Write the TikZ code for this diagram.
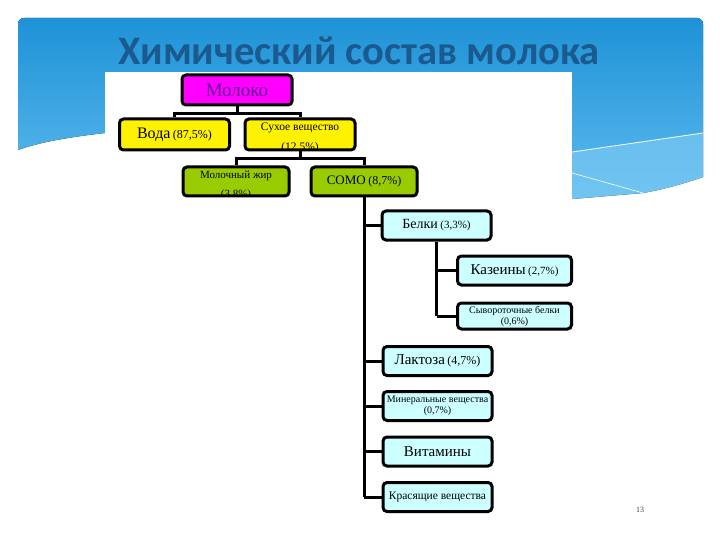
\documentclass[tikz,border=0pt]{standalone}
\usepackage{fontspec}
\setmainfont{Liberation Serif}
\newfontfamily\titlefont{Carlito}
\usetikzlibrary{positioning}
\definecolor{bannertop}{HTML}{1E92D6}
\definecolor{bannerbot}{HTML}{5EBBEF}
\definecolor{bandlight}{HTML}{7FCBF3}
\definecolor{titleblue}{HTML}{1A5A8E}
\definecolor{milkpink}{HTML}{FF00FF}
\definecolor{milkpurple}{HTML}{660099}
\definecolor{drygreen}{HTML}{99CC00}
\definecolor{palecyan}{HTML}{CCFFFF}

\begin{document}
\begin{tikzpicture}[x=1pt, y=-1pt,
  box/.style={draw=black, line width=3pt, rounded corners=4pt, align=center, inner sep=1pt, minimum height=30pt},
  milkbox/.style={box, fill=milkpink, text=milkpurple, minimum width=110pt},
  yellowbox/.style={box, fill=yellow, minimum width=110pt, minimum height=31pt},
  greenbox/.style={box, fill=drygreen, minimum width=106pt, minimum height=29pt},
  cyanbox/.style={box, fill=palecyan, minimum width=109pt, minimum height=29pt},
  link/.style={line width=3pt}]
  \useasboundingbox (0,0) rectangle (720,540);

  % Slide banner
  \fill[top color=bannertop, bottom color=bannerbot] (18,150) [rounded corners=6pt] -- (18,18) -- (703,18) [sharp corners] -- (703,177) .. controls (680,185) and (660,190) .. (643,193) -- (572,199) -- (105,200) -- (105,133) .. controls (70,137) and (40,142) .. (18,150) -- cycle;
  \fill[bandlight, opacity=0.6] (572,152) -- (703,133) -- (703,177) .. controls (680,185) and (660,190) .. (643,193) -- (572,199) -- cycle;
  \draw[white, line width=0.8pt] (572,152) -- (703,133);
  \draw[white, line width=0.6pt] (572,173) -- (643,193);
  \fill[white] (105,72) rectangle (572,200);

  % Title
  \node[font=\titlefont\bfseries\fontsize{40.5}{41}\selectfont, text=titleblue, anchor=base] (title) at (359,65) {Химический состав молока};

  % Tree levels
  \node[milkbox, font=\fontsize{19}{20}\selectfont] (moloko) at (237,90) {Молоко};
  \node[yellowbox] (voda) at (174.5,134.5) {{\fontsize{16}{17}\selectfont Вода} {\fontsize{12}{13}\selectfont (87,5\%)}};
  \node[yellowbox, path picture={\node[align=center, font=\fontsize{11.5}{20}\selectfont] at ([yshift=-3pt]path picture bounding box.center) {Сухое вещество\\(12,5\%)};}] (sukhoe) at (300,134.5) {};
  \node[greenbox, path picture={\node[align=center, font=\fontsize{11}{19}\selectfont] at ([yshift=-4pt]path picture bounding box.center) {Молочный жир\\(3,8\%)};}] (zhir) at (236,181.5) {};
  \node[greenbox] (somo) at (364,181.5) {{\fontsize{13}{14}\selectfont СОМО} {\fontsize{12}{13}\selectfont (8,7\%)}};

  % Components of SOMO
  \node[cyanbox] (belki) at (436.5,225.5) {{\fontsize{14}{15}\selectfont Белки} {\fontsize{11}{12}\selectfont (3,3\%)}};
  \node[cyanbox, minimum width=114pt] (kazein) at (514.5,270.5) {{\fontsize{15}{16}\selectfont Казеины} {\fontsize{11}{12}\selectfont (2,7\%)}};
  \node[cyanbox, minimum width=114pt, minimum height=26pt, font=\fontsize{10}{11}\selectfont] (syvor) at (514.5,316) {Сывороточные белки\\(0,6\%)};
  \node[cyanbox] (laktoza) at (437.5,361) {{\fontsize{15}{16}\selectfont Лактоза} {\fontsize{12}{13}\selectfont (4,7\%)}};
  \node[cyanbox, font=\fontsize{10}{11.5}\selectfont] (miner) at (437.5,406) {Минеральные вещества\\(0,7\%)};
  \node[cyanbox, font=\fontsize{15}{16}\selectfont] (vitam) at (437.5,451.5) {Витамины};
  \node[cyanbox, font=\fontsize{11.5}{13}\selectfont] (krasy) at (437.5,497) {Красящие вещества};

  % Connectors
  \draw[link] (moloko.south) -- ++(0,7) -| (voda.north);
  \draw[link] (moloko.south) -- ++(0,7) -| (sukhoe.north);
  \draw[link] (sukhoe.south) -- ++(0,7) -| (zhir.north);
  \draw[link] (sukhoe.south) -- ++(0,7) -| (somo.north);
  \draw[link] (somo.south) -- (somo.south |- krasy.west);
  \foreach \n in {belki, laktoza, miner, vitam, krasy}
    \draw[link] (somo.south |- \n.west) -- (\n.west);
  \draw[link] (belki.south) -- (belki.south |- syvor.west);
  \foreach \n in {kazein, syvor}
    \draw[link] (belki.south |- \n.west) -- (\n.west);

  % Page number
  \node[font=\fontsize{8}{9}\selectfont, text=black!75] (pagenum) at (640,510) {13};
\end{tikzpicture}
\end{document}
